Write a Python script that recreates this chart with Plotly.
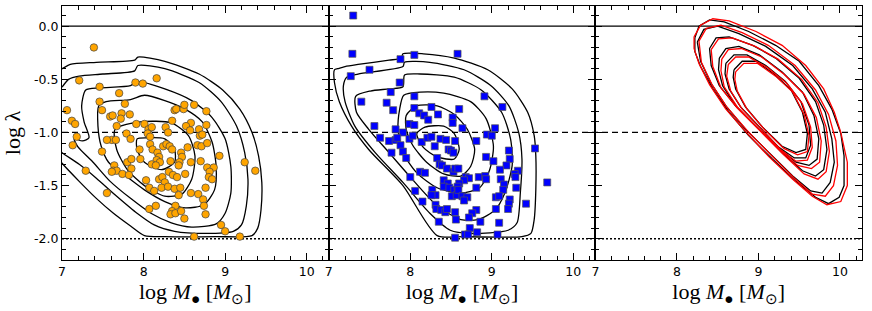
import plotly.graph_objects as go
from plotly.subplots import make_subplots

# ---------------- data ----------------
p1_mass = [7.39,7.21,7.90,7.99,8.16,7.46,7.70,7.46,7.77,7.06,7.49,7.12,7.16,7.59,7.62,7.73,7.72,7.83,7.67,7.91,
           8.01,8.06,8.10,8.38,8.40,8.49,8.50,8.62,8.35,8.58,8.52,8.27,8.30,8.68,8.69,8.57,7.18,7.79,7.84,7.61,
           7.55,7.66,8.05,8.08,7.13,7.49,8.08,7.95,7.96,8.11,8.17,8.19,8.16,8.20,8.10,8.15,8.24,8.28,8.32,8.35,
           8.46,8.47,8.44,8.43,8.54,8.66,8.71,8.33,8.58,8.70,7.64,7.63,7.67,7.61,7.80,7.85,7.85,7.74,7.82,7.29,
           8.31,8.36,8.41,8.51,8.19,8.23,8.26,8.22,8.30,8.03,8.07,8.13,8.38,8.45,8.43,8.58,8.67,7.55,8.07,8.15,
           8.39,8.35,8.33,8.39,8.46,8.50,8.62,8.77,8.77,8.72,8.78,8.93,8.78,8.86,8.81,8.80,8.84,9.24,9.37,8.76,
           8.73,8.74,8.76,8.95,9.00,9.18]
p1_lam = [-0.20,-0.51,-0.53,-0.54,-0.49,-0.57,-0.63,-0.71,-0.73,-0.79,-0.79,-0.89,-0.92,-0.85,-0.84,-0.82,-0.87,-0.83,-0.94,-0.92,
          -0.92,-0.97,-0.95,-0.79,-0.78,-0.78,-0.74,-0.74,-0.89,-0.91,-0.94,-0.95,-1.00,-0.97,-1.03,-0.98,-1.04,-1.01,-1.06,-1.07,
          -1.07,-1.07,-1.01,-1.04,-1.12,-1.18,-1.11,-1.16,-1.25,-1.16,-1.19,-1.23,-1.26,-1.28,-1.30,-1.31,-1.13,-1.11,-1.13,-1.16,
          -1.19,-1.23,-1.28,-1.31,-1.14,-1.12,-1.13,-1.27,-1.28,-1.27,-1.31,-1.36,-1.36,-1.37,-1.28,-1.25,-1.34,-1.39,-1.40,-1.36,
          -1.37,-1.40,-1.42,-1.39,-1.44,-1.42,-1.47,-1.52,-1.51,-1.45,-1.52,-1.55,-1.53,-1.52,-1.59,-1.57,-1.58,-1.57,-1.72,-1.69,
          -1.69,-1.74,-1.77,-1.76,-1.74,-1.81,-1.98,-0.80,-0.93,-1.02,-1.10,-1.22,-1.33,-1.33,-1.37,-1.42,-1.44,-1.28,-1.36,-1.52,
          -1.63,-1.69,-1.77,-1.87,-1.93,-1.98]

p2_mass = [7.30,7.29,7.88,8.05,8.58,7.50,7.27,7.87,7.76,7.40,7.71,7.79,8.05,8.05,8.26,8.11,8.17,8.22,8.34,7.99,
           8.05,7.56,8.52,8.52,8.60,7.82,7.91,7.99,8.03,7.63,7.74,7.82,7.84,7.88,7.91,7.95,7.77,8.14,8.21,8.26,
           8.30,8.37,8.44,8.55,8.47,8.33,8.36,8.39,8.45,8.53,8.55,8.12,8.18,8.00,8.41,8.46,8.41,8.48,8.54,8.06,
           8.27,8.31,8.26,8.51,8.57,8.15,8.31,8.32,8.38,8.43,8.45,8.55,8.56,8.35,8.55,8.91,9.13,8.64,9.04,8.94,
           9.00,8.81,8.50,8.53,8.93,9.21,9.22,9.18,9.02,9.10,9.53,9.32,9.28,9.29,8.59,8.68,8.72,8.66,8.84,8.92,
           8.93,8.60,8.58,8.59,8.81,9.11,9.15,9.14,9.30,8.64,8.70,8.66,9.05,9.09,9.22,9.21,9.20,9.42,9.05,9.68,
           8.81,8.76,8.72,8.86,9.09,8.73,8.67,8.71,8.82,9.07]
p2_lam = [0.10,-0.26,-0.31,-0.27,-0.26,-0.41,-0.47,-0.53,-0.62,-0.71,-0.72,-0.79,-0.66,-0.77,-0.76,-0.82,-0.84,-0.88,-0.83,-0.92,
          -0.93,-0.94,-0.86,-0.91,-0.78,-0.97,-1.00,-1.06,-1.03,-1.05,-1.08,-1.07,-1.05,-1.12,-1.18,-1.24,-1.19,-1.09,-1.05,-1.04,
          -1.13,-1.06,-1.07,-1.08,-1.16,-1.24,-1.30,-1.31,-1.34,-1.37,-1.34,-1.37,-1.38,-1.42,-1.45,-1.48,-1.51,-1.52,-1.54,-1.55,
          -1.54,-1.59,-1.59,-1.60,-1.59,-1.65,-1.68,-1.72,-1.73,-1.75,-1.72,-1.75,-1.82,-1.84,-1.99,-0.66,-0.76,-0.96,-0.96,-1.02,
          -1.03,-1.08,-1.17,-1.19,-1.23,-1.17,-1.25,-1.31,-1.27,-1.35,-1.15,-1.36,-1.39,-1.42,-1.34,-1.42,-1.43,-1.45,-1.42,-1.41,
          -1.44,-1.48,-1.51,-1.54,-1.52,-1.44,-1.49,-1.54,-1.52,-1.60,-1.61,-1.64,-1.61,-1.60,-1.63,-1.67,-1.72,-1.67,-1.72,-1.47,
          -1.73,-1.76,-1.80,-1.84,-1.85,-1.90,-1.96,-1.96,-1.94,-1.96]

# contour lines (log M, log lambda)
p1_contours = [
    ([6.96,7.00,7.10,7.42,7.89,7.93,8.26,8.68,8.97,9.18,9.33,9.41,9.45,9.44,9.40,9.33,8.89,8.26,8.01,7.84,7.63,7.42,7.21,7.00,6.96],
     [-0.41,-0.40,-0.36,-0.34,-0.32,-0.29,-0.33,-0.45,-0.60,-0.78,-1.00,-1.22,-1.47,-1.73,-1.90,-1.97,-1.98,-1.98,-1.97,-1.88,-1.76,-1.62,-1.46,-1.29,-1.25]),
    ([6.96,7.00,7.08,7.21,7.50,7.89,7.93,8.26,8.68,8.95,9.14,9.24,9.28,9.26,9.20,9.10,8.76,8.38,8.13,7.92,7.67,7.42,7.21,7.00,6.96],
     [-0.59,-0.57,-0.50,-0.47,-0.45,-0.42,-0.37,-0.40,-0.53,-0.71,-0.94,-1.19,-1.44,-1.69,-1.87,-1.93,-1.95,-1.93,-1.87,-1.76,-1.60,-1.43,-1.30,-1.19,-1.16]),
    ([7.29,7.46,7.84,7.92,8.26,8.59,8.84,9.00,9.07,9.07,9.00,8.89,8.59,8.34,8.09,7.84,7.59,7.38,7.19,7.15,7.25,7.33,7.27,7.24,7.29],
     [-0.60,-0.58,-0.56,-0.52,-0.59,-0.70,-0.86,-1.06,-1.32,-1.57,-1.76,-1.86,-1.89,-1.85,-1.76,-1.62,-1.46,-1.28,-1.13,-1.06,-1.08,-1.05,-0.90,-0.75,-0.60]),
    ([7.45,7.54,7.84,8.01,8.26,8.51,8.72,8.84,8.89,8.87,8.74,8.51,8.26,8.01,7.75,7.57,7.48,7.44,7.45],
     [-0.75,-0.71,-0.69,-0.65,-0.70,-0.78,-0.90,-1.09,-1.32,-1.54,-1.68,-1.71,-1.65,-1.54,-1.39,-1.28,-1.13,-0.94,-0.75]),
    ([7.65,7.96,8.34,8.55,8.63,8.59,8.47,8.26,8.01,7.80,7.67,7.65],
     [-0.97,-0.90,-0.91,-1.03,-1.22,-1.44,-1.58,-1.60,-1.50,-1.35,-1.16,-0.97]),
    ([7.92,8.05,8.26,8.38,8.38,8.22,8.01,7.92,7.92],
     [-1.06,-1.05,-1.06,-1.16,-1.28,-1.35,-1.28,-1.16,-1.06]),
]

p2_contours = [
    ([7.07,7.11,7.20,7.36,7.74,7.89,7.91,8.16,8.54,8.95,9.25,9.44,9.52,9.54,9.54,9.52,9.48,9.37,8.66,8.33,7.91,7.49,7.28,7.13,7.07,7.07],
     [-0.41,-0.40,-0.38,-0.36,-0.32,-0.30,-0.26,-0.26,-0.30,-0.41,-0.59,-0.81,-1.03,-1.22,-1.54,-1.82,-1.95,-1.98,-1.98,-1.97,-1.50,-1.16,-0.94,-0.71,-0.53,-0.41]),
    ([7.18,7.22,7.36,7.91,7.93,8.24,8.66,8.99,9.21,9.33,9.37,9.35,9.31,9.20,8.74,8.49,8.24,7.91,7.57,7.32,7.20,7.18],
     [-0.56,-0.48,-0.45,-0.38,-0.34,-0.34,-0.41,-0.56,-0.75,-1.00,-1.25,-1.57,-1.85,-1.92,-1.95,-1.92,-1.76,-1.47,-1.19,-0.94,-0.71,-0.56]),
    ([7.33,7.51,7.74,7.91,7.93,8.12,8.54,8.87,9.12,9.23,9.25,9.16,9.04,8.83,8.62,8.33,7.99,7.74,7.49,7.34,7.33],
     [-0.66,-0.61,-0.59,-0.57,-0.46,-0.45,-0.48,-0.60,-0.81,-1.06,-1.31,-1.57,-1.73,-1.82,-1.82,-1.69,-1.41,-1.19,-0.97,-0.81,-0.66]),
    ([7.92,8.12,8.41,8.74,8.93,9.02,8.97,8.85,8.62,8.33,8.08,7.91,7.85,7.87,7.92],
     [-0.65,-0.62,-0.63,-0.71,-0.87,-1.13,-1.36,-1.52,-1.57,-1.52,-1.38,-1.19,-0.97,-0.78,-0.65]),
    ([7.95,8.08,8.33,8.54,8.70,8.79,8.74,8.62,8.41,8.20,8.03,7.95,7.95],
     [-0.84,-0.75,-0.75,-0.83,-0.97,-1.16,-1.32,-1.41,-1.39,-1.28,-1.12,-0.97,-0.84]),
    ([8.08,8.18,8.41,8.54,8.60,8.54,8.33,8.16,8.08],
     [-1.01,-0.95,-0.94,-1.01,-1.16,-1.25,-1.23,-1.14,-1.01]),
]

p3_black = [
    ([8.22,8.27,8.40,8.58,8.88,9.21,9.50,9.74,9.90,10.01,10.05,10.05,9.99,9.86,9.70,9.46,9.17,8.88,8.64,8.44,8.29,8.22,8.22],
     [-0.11,0.00,0.06,0.04,-0.05,-0.18,-0.33,-0.56,-0.78,-1.01,-1.22,-1.50,-1.61,-1.67,-1.61,-1.46,-1.25,-1.03,-0.81,-0.59,-0.38,-0.24,-0.11]),
    ([8.25,8.33,8.50,8.76,9.09,9.42,9.66,9.82,9.90,9.93,9.88,9.78,9.64,9.42,9.13,8.84,8.60,8.42,8.29,8.25],
     [-0.15,-0.03,0.00,-0.07,-0.19,-0.37,-0.59,-0.81,-1.06,-1.28,-1.47,-1.57,-1.55,-1.41,-1.19,-0.97,-0.75,-0.54,-0.33,-0.15]),
    ([8.40,8.48,8.64,8.93,9.21,9.50,9.70,9.80,9.84,9.80,9.70,9.54,9.29,9.01,8.72,8.52,8.42,8.40],
     [-0.21,-0.11,-0.10,-0.18,-0.30,-0.49,-0.71,-0.93,-1.16,-1.35,-1.41,-1.36,-1.19,-0.97,-0.75,-0.56,-0.37,-0.21]),
    ([8.52,8.60,8.76,9.01,9.29,9.54,9.68,9.74,9.72,9.62,9.46,9.21,8.97,8.72,8.56,8.51,8.52],
     [-0.30,-0.21,-0.19,-0.27,-0.43,-0.62,-0.84,-1.06,-1.25,-1.31,-1.28,-1.12,-0.94,-0.75,-0.56,-0.41,-0.30]),
    ([8.60,8.70,8.86,9.09,9.33,9.52,9.62,9.64,9.58,9.44,9.25,9.01,8.78,8.64,8.59,8.60],
     [-0.35,-0.27,-0.27,-0.37,-0.52,-0.71,-0.93,-1.12,-1.24,-1.24,-1.14,-0.95,-0.76,-0.59,-0.45,-0.35]),
    ([8.70,8.80,8.97,9.19,9.40,9.54,9.60,9.58,9.46,9.29,9.05,8.84,8.72,8.69,8.70],
     [-0.41,-0.33,-0.33,-0.45,-0.60,-0.81,-1.01,-1.16,-1.19,-1.13,-0.95,-0.76,-0.59,-0.48,-0.41]),
]

p3_red = [
    ([8.21,8.29,8.44,8.64,8.97,9.29,9.58,9.80,9.93,10.01,10.09,10.09,10.01,9.84,9.66,9.42,9.13,8.84,8.60,8.40,8.27,8.21,8.21],
     [-0.10,0.01,0.07,0.05,-0.05,-0.18,-0.37,-0.59,-0.81,-1.00,-1.28,-1.50,-1.65,-1.68,-1.60,-1.44,-1.23,-0.99,-0.78,-0.55,-0.35,-0.21,-0.10]),
    ([8.27,8.36,8.54,8.80,9.12,9.45,9.70,9.86,9.95,9.97,9.92,9.82,9.66,9.44,9.15,8.86,8.61,8.43,8.30,8.27],
     [-0.14,-0.02,0.01,-0.06,-0.18,-0.37,-0.60,-0.83,-1.08,-1.31,-1.50,-1.60,-1.58,-1.43,-1.21,-0.98,-0.76,-0.55,-0.34,-0.14]),
    ([8.42,8.51,8.68,8.96,9.24,9.53,9.73,9.83,9.87,9.83,9.73,9.56,9.31,9.03,8.74,8.54,8.44,8.42],
     [-0.22,-0.12,-0.11,-0.19,-0.31,-0.50,-0.72,-0.95,-1.18,-1.37,-1.44,-1.39,-1.21,-0.99,-0.77,-0.58,-0.38,-0.22]),
    ([8.55,8.63,8.79,9.04,9.31,9.56,9.71,9.77,9.75,9.65,9.48,9.23,8.98,8.74,8.58,8.54,8.55],
     [-0.31,-0.22,-0.21,-0.29,-0.45,-0.64,-0.86,-1.08,-1.28,-1.34,-1.31,-1.14,-0.95,-0.76,-0.57,-0.42,-0.31]),
    ([8.63,8.72,8.88,9.11,9.35,9.54,9.64,9.66,9.60,9.46,9.27,9.03,8.80,8.66,8.61,8.63],
     [-0.36,-0.29,-0.29,-0.39,-0.54,-0.73,-0.95,-1.14,-1.26,-1.27,-1.16,-0.97,-0.78,-0.61,-0.47,-0.36]),
    ([8.72,8.82,8.99,9.21,9.42,9.56,9.62,9.60,9.48,9.31,9.07,8.86,8.74,8.71,8.72],
     [-0.43,-0.35,-0.35,-0.47,-0.62,-0.83,-1.03,-1.18,-1.21,-1.15,-0.97,-0.78,-0.61,-0.50,-0.43]),
]

ref_levels = [0.0, -1.0, -2.0]
ref_dash = ["solid", "6px,4px", "2px,2px"]
x_ticks = [7, 8, 9, 10]
y_ticks = [0.0, -0.5, -1.0, -1.5, -2.0]
y_tick_labels = ["0.0", "-0.5", "-1.0", "-1.5", "-2.0"]

# ---------------- figure ----------------
fig = make_subplots(rows=1, cols=3, shared_yaxes=True, horizontal_spacing=0)

def add_lines(contours, col, color, shape):
    for cx, cy in contours:
        fig.add_trace(go.Scatter(x=cx, y=cy, mode="lines",
                                 line=dict(color=color, width=1.3, shape=shape, smoothing=0.7),
                                 hoverinfo="skip", showlegend=False), row=1, col=col)

add_lines(p1_contours, 1, "black", "spline")
add_lines(p2_contours, 2, "black", "spline")
add_lines(p3_black, 3, "black", "linear")
add_lines(p3_red, 3, "red", "linear")

fig.add_trace(go.Scatter(x=p1_mass, y=p1_lam, mode="markers",
                         marker=dict(symbol="circle", size=7.5, color="#FFA500", line=dict(color="#444444", width=0.7)),
                         showlegend=False), row=1, col=1)
fig.add_trace(go.Scatter(x=p2_mass, y=p2_lam, mode="markers",
                         marker=dict(symbol="square", size=7, color="#0000FF", line=dict(color="#555555", width=0.7)),
                         showlegend=False), row=1, col=2)

for lvl, dsh in zip(ref_levels, ref_dash):
    fig.add_shape(type="line", xref="paper", x0=0, x1=1, yref="y", y0=lvl, y1=lvl,
                  line=dict(color="black", width=1.3, dash=dsh), layer="below")

xtitle = "log <i>M</i><sub>\u25cf</sub> [<i>M</i><sub>\u2299</sub>]"
for c in (1, 2, 3):
    fig.update_xaxes(range=[6.999, 10.27], tickvals=x_ticks, ticks="inside", ticklen=7, tickwidth=1,
                     tickcolor="black", showline=True, linecolor="black", linewidth=1.1, mirror="ticks",
                     minor=dict(dtick=0.2, ticks="inside", ticklen=4, tickcolor="black"),
                     showgrid=False, zeroline=False, automargin=False,
                     tickfont=dict(family="DejaVu Sans", size=12.5, color="black"),
                     title=dict(text=xtitle, font=dict(family="Liberation Serif", size=22, color="black"), standoff=2),
                     row=1, col=c)
    fig.update_yaxes(range=[-2.2, 0.19], tickvals=y_ticks, ticktext=y_tick_labels, ticks="inside", ticklen=7,
                     tickcolor="black", showline=True, linecolor="black", linewidth=1.1, mirror="ticks",
                     minor=dict(dtick=0.1, ticks="inside", ticklen=4, tickcolor="black"),
                     showgrid=False, zeroline=False, automargin=False,
                     tickfont=dict(family="DejaVu Sans", size=12.5, color="black"),
                     row=1, col=c)
fig.update_yaxes(title=dict(text="log \u03bb", font=dict(family="Liberation Serif", size=22, color="black"), standoff=8),
                 row=1, col=1)

fig.update_layout(width=872, height=311, margin=dict(l=62, r=10, t=6, b=51),
                  plot_bgcolor="white", paper_bgcolor="white", showlegend=False)

fig.write_html("out.html", config={"displayModeBar": False},
               post_script="document.body.style.margin='0px';")
